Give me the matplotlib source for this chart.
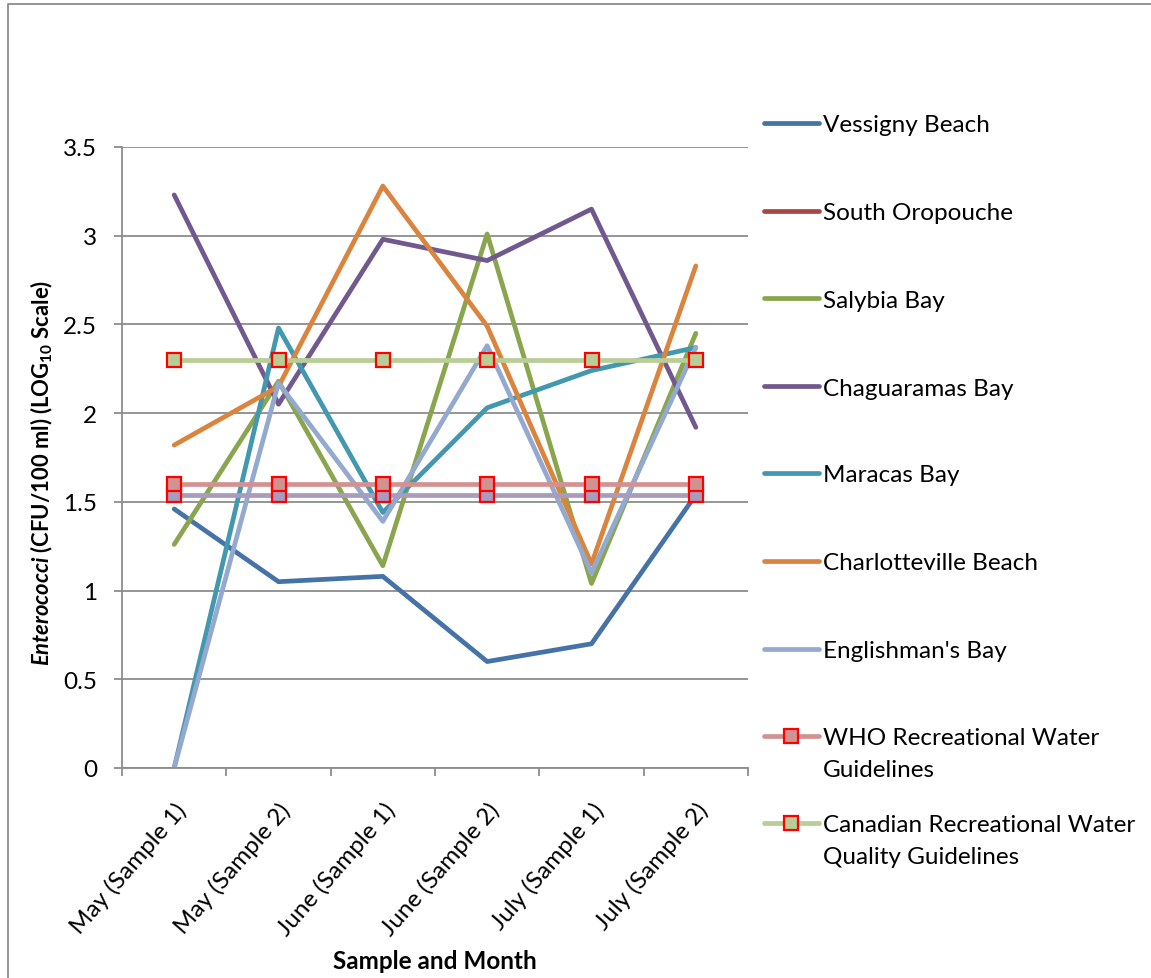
import numpy as np
import matplotlib
matplotlib.use("Agg")
import matplotlib.pyplot as plt
from matplotlib.lines import Line2D
from matplotlib.ticker import FixedLocator, FuncFormatter

# ---- data -------------------------------------------------------------
samples = ["May (Sample 1)", "May (Sample 2)", "June (Sample 1)",
           "June (Sample 2)", "July (Sample 1)", "July (Sample 2)"]

vessigny = [1.46, 1.05, 1.08, 0.60, 0.70, 1.54]
south_oropouche = [np.nan] * 6
salybia = [1.26, 2.18, 1.14, 3.01, 1.04, 2.45]
chaguaramas = [3.23, 2.05, 2.98, 2.86, 3.15, 1.92]
maracas = [0.0, 2.48, 1.44, 2.03, 2.24, 2.37]
charlotteville = [1.82, 2.15, 3.28, 2.49, 1.15, 2.83]
englishmans = [0.0, 2.17, 1.39, 2.38, 1.10, 2.37]

who_guideline = [1.60] * 6
canadian_guideline = [2.30] * 6
third_guideline = [1.54] * 6

site_names = ["Vessigny Beach", "South Oropouche", "Salybia Bay",
              "Chaguaramas Bay", "Maracas Bay", "Charlotteville Beach",
              "Englishman's Bay"]
site_values = [vessigny, south_oropouche, salybia, chaguaramas,
               maracas, charlotteville, englishmans]
site_colors = ["#4572A7", "#AA4643", "#89A54E", "#71588F",
               "#4198AF", "#DB843D", "#93A9CF"]

guide_names = ["WHO Recreational Water\nGuidelines",
               "Canadian Recreational Water\nQuality Guidelines"]
guide_values = [who_guideline, canadian_guideline]
guide_colors = ["#D19392", "#B9CD96"]
third_color = "#A99BBD"

# ---- style ------------------------------------------------------------
FONT = "Lato"
plt.rcParams["font.family"] = [FONT, "DejaVu Sans"]
plt.rcParams["mathtext.fontset"] = "custom"
plt.rcParams["mathtext.it"] = f"{FONT}:bold:italic"
plt.rcParams["mathtext.bf"] = f"{FONT}:bold"
plt.rcParams["mathtext.rm"] = f"{FONT}:bold"
FS = 17.5
GRID = "#8C8C8C"
LW = 3.4

W, H = 1151, 979
fig = plt.figure(figsize=(W / 100, H / 100), dpi=100)
fig.patch.set_facecolor("white")


def fx(px):
    return px / W


def fy(py):
    return 1 - py / H


ax = fig.add_axes([fx(122), fy(769), fx(748) - fx(122), fy(148) - fy(769)])
x = np.arange(len(samples))

line_kw = dict(lw=LW, solid_capstyle="round", solid_joinstyle="round")
for vals, col in zip(site_values, site_colors):
    ax.plot(x, vals, color=col, **line_kw)

marker_kw = dict(marker="s", markersize=9.5, markeredgecolor="#FF0000",
                 markeredgewidth=1.6)
ax.plot(x, third_guideline, color=third_color, markerfacecolor=third_color,
        **marker_kw, **line_kw)
for vals, col in zip(guide_values, guide_colors):
    ax.plot(x, vals, color=col, markerfacecolor=col, **marker_kw, **line_kw)

ax.set_xlim(-0.5, len(samples) - 0.5)
ax.set_ylim(0, 3.5)

ax.set_yticks(np.arange(0, 3.51, 0.5))
ax.yaxis.set_major_formatter(FuncFormatter(lambda v, p: f"{v:g}"))
ax.grid(axis="y", color=GRID, lw=1.3)
ax.set_axisbelow(True)

ax.set_xticks(x)
ax.set_xticklabels(samples, rotation=49, ha="right", rotation_mode="anchor")
ax.xaxis.set_minor_locator(FixedLocator(np.arange(-0.5, len(samples), 1.0)))
ax.tick_params(axis="x", which="major", length=0, pad=22, labelsize=FS)
ax.tick_params(axis="x", which="minor", length=6, width=1.3, color=GRID,
               direction="out")
ax.tick_params(axis="y", length=6, width=1.3, color=GRID, pad=12,
               labelsize=FS)

for side in ["top", "right"]:
    ax.spines[side].set_visible(False)
for side in ["left", "bottom"]:
    ax.spines[side].set_color(GRID)
    ax.spines[side].set_linewidth(1.3)

# axis titles
fig.text(fx(435), fy(962), "Sample and Month", ha="center", va="center",
         fontsize=FS, fontweight="bold")
fig.text(fx(42), fy(473),
         r"$\mathit{Enterococci}$ (CFU/100 ml) (LOG$_\mathbf{10}$ Scale)",
         rotation=90, ha="center", va="center", fontsize=15.8,
         fontweight="bold")

# legend, drawn entry by entry
entry_y = [124, 212, 299, 387, 474, 562, 650, 737, 824]
labels = site_names + guide_names
colors = site_colors + guide_colors
for i, (lab, col, yy) in enumerate(zip(labels, colors, entry_y)):
    fig.add_artist(Line2D([fx(764), fx(819)], [fy(yy), fy(yy)], color=col,
                          lw=LW, solid_capstyle="round",
                          transform=fig.transFigure))
    if i >= len(site_names):
        fig.add_artist(Line2D([fx(791)], [fy(yy)], color=col,
                              markerfacecolor=col, marker="s",
                              markersize=9.5, markeredgecolor="#FF0000",
                              markeredgewidth=1.6,
                              transform=fig.transFigure))
    for k, part in enumerate(lab.split("\n")):
        fig.text(fx(823), fy(yy + 8.5 + 32 * k), part, ha="left",
                 va="baseline", fontsize=FS)

# chart frame
fig.add_artist(Line2D([fx(8), fx(8), 1.0], [0.0, fy(5), fy(5)],
                      color=GRID, lw=1.3, transform=fig.transFigure))

fig.savefig("out.png", dpi=100, facecolor="white")
